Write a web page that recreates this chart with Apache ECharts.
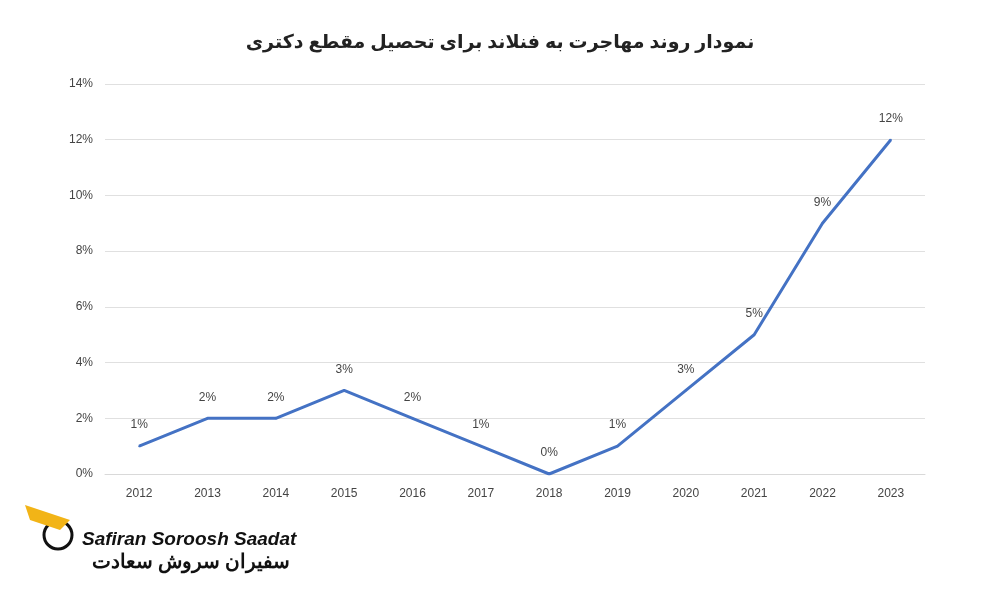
<!DOCTYPE html>
<html><head><meta charset="utf-8">
<script src="https://cdn.jsdelivr.net/npm/echarts@6/dist/echarts.min.js"></script>
<style>html,body{margin:0;background:#fff}#c{width:1000px;height:600px}</style>
</head><body><div id="c"></div>
<script>
const years = ['2012','2013','2014','2015','2016','2017','2018','2019','2020','2021','2022','2023'];
const values = [1,2,2,3,2,1,0,1,3,5,9,12];
const titleText = 'نمودار روند مهاجرت به فنلاند برای تحصیل مقطع دکتری';
const chart = echarts.init(document.getElementById('c'));
chart.setOption({
  backgroundColor:'#fff',
  title:{text:titleText,left:'center',top:28,textStyle:{fontFamily:'Noto Sans, DejaVu Sans',fontSize:19,fontWeight:'bold',color:'#222'}},
  grid:{left:105,right:75,top:84,bottom:126},
  xAxis:{type:'category',data:years,boundaryGap:true,
    axisLine:{lineStyle:{color:'#d9d9d9'}},axisTick:{show:false},
    axisLabel:{color:'#444',fontSize:12,fontFamily:'Liberation Sans, Arial',margin:14}},
  yAxis:{type:'value',min:0,max:14,interval:2,
    axisLabel:{formatter:'{value}%',color:'#444',fontSize:12,fontFamily:'Liberation Sans, Arial',margin:12},
    splitLine:{lineStyle:{color:'#e0e0e0'}},axisLine:{show:false},axisTick:{show:false}},
  series:[{type:'line',data:values,symbol:'circle',symbolSize:2,showSymbol:true,showAllSymbol:true,
    itemStyle:{color:'#4472c4'},lineStyle:{color:'#4472c4',width:3},
    label:{show:true,position:'top',distance:14,formatter:'{c}%',color:'#444',fontSize:12,fontFamily:'Liberation Sans, Arial'}}],
  graphic:[
    {type:'text',left:82,top:530,style:{text:'Safiran Soroosh Saadat',font:'italic bold 19px Liberation Sans',fill:'#111'}},
    {type:'text',left:92,top:552,style:{text:'سفیران سروش سعادت',font:'bold 20px Noto Sans',fill:'#111'}},
    {type:'circle',shape:{cx:58,cy:535,r:14},style:{fill:'none',stroke:'#111',lineWidth:3}},
    {type:'polygon',shape:{points:[[25,505],[70,520],[60,530],[30,520]]},style:{fill:'#f2b417'}}
  ]
});
</script></body></html>
